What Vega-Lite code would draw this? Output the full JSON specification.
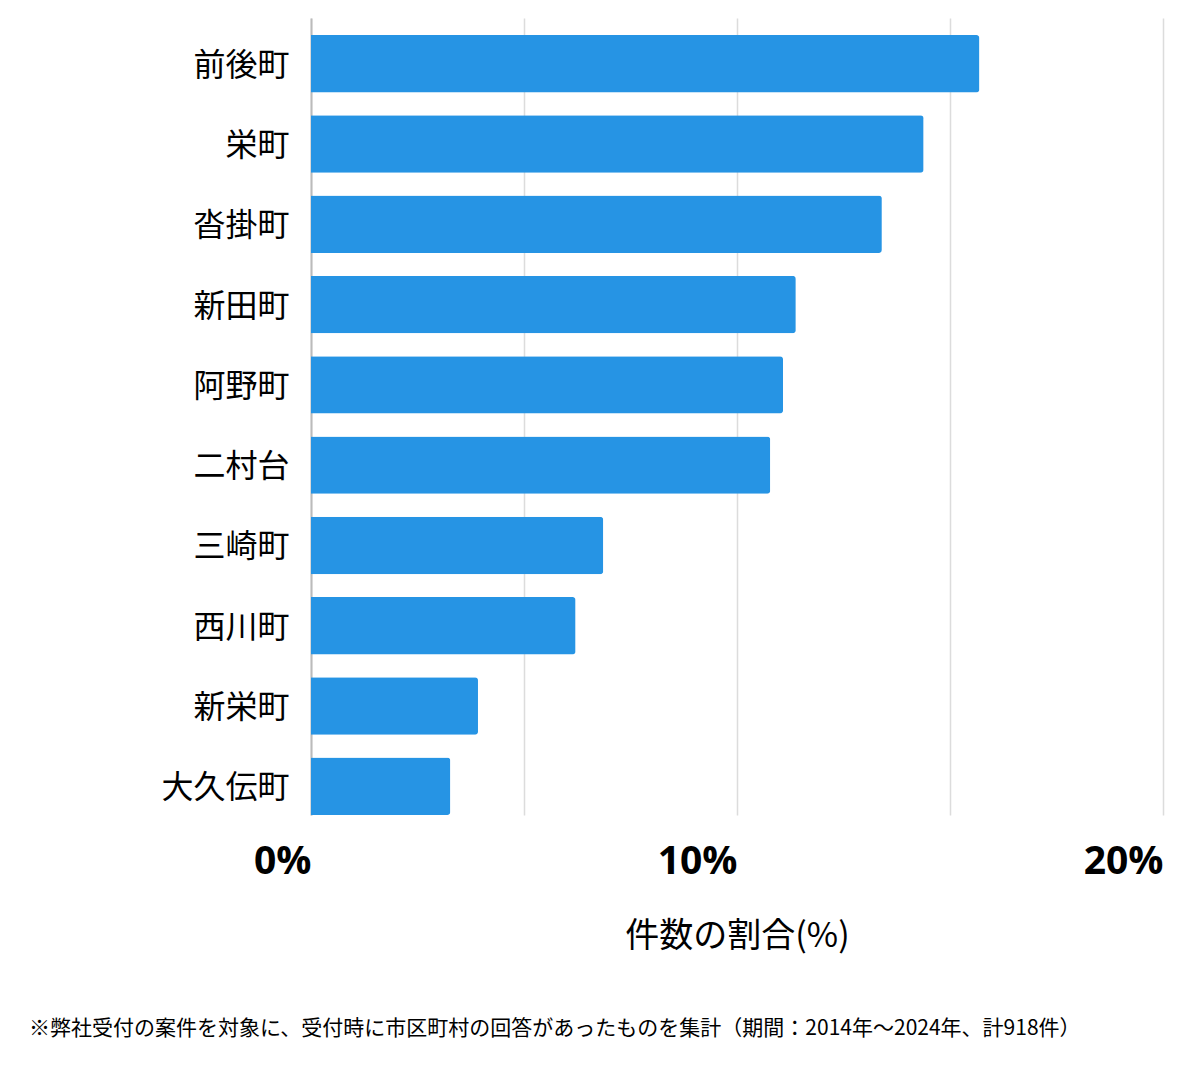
{
  "$schema": "https://vega.github.io/schema/vega-lite/v6.json",
  "width": 852,
  "height": 797,
  "autosize": "none",
  "padding": {"left": 311, "top": 18, "right": 37, "bottom": 254},
  "background": "white",
  "config": {
    "view": {"stroke": null},
    "font": "Noto Sans CJK JP"
  },
  "title": {
    "text": "※弊社受付の案件を対象に、受付時に市区町村の回答があったものを集計（期間：2014年～2024年、計918件）",
    "orient": "bottom",
    "anchor": "start",
    "frame": "group",
    "dx": -282,
    "offset": 82,
    "fontSize": 21,
    "fontWeight": "normal",
    "color": "#000000",
    "font": "Noto Sans CJK JP",
    "baseline": "alphabetic"
  },
  "data": {
    "values": [
      {"area": "前後町", "pct": 15.69},
      {"area": "栄町", "pct": 14.38},
      {"area": "沓掛町", "pct": 13.40},
      {"area": "新田町", "pct": 11.38},
      {"area": "阿野町", "pct": 11.08},
      {"area": "二村台", "pct": 10.78},
      {"area": "三崎町", "pct": 6.86},
      {"area": "西川町", "pct": 6.21},
      {"area": "新栄町", "pct": 3.92},
      {"area": "大久伝町", "pct": 3.27}
    ]
  },
  "mark": {"type": "bar", "color": "#2694E4", "cornerRadiusEnd": 3},
  "encoding": {
    "y": {
      "field": "area",
      "type": "nominal",
      "sort": null,
      "scale": {"paddingInner": 0.285, "paddingOuter": 0.106, "align": 1},
      "axis": {
        "title": null,
        "ticks": false,
        "domain": true,
        "domainColor": "#bbbbbb",
        "domainWidth": 2,
        "labelFontSize": 32,
        "labelFont": "Noto Sans CJK JP",
        "labelFontWeight": "normal",
        "labelColor": "#000000",
        "labelPadding": 22,
        "labelOffset": 2
      }
    },
    "x": {
      "field": "pct",
      "type": "quantitative",
      "scale": {"domain": [0, 20], "nice": false},
      "axis": {
        "values": [0, 5, 10, 15, 20],
        "title": "件数の割合(%)",
        "titleFont": "Noto Sans CJK JP",
        "titleFontSize": 34,
        "titleFontWeight": "normal",
        "titleColor": "#000000",
        "titlePadding": 38,
        "domain": false,
        "ticks": false,
        "tickSize": 0,
        "grid": true,
        "gridColor": "#dcdcdc",
        "gridWidth": 1.5,
        "labelExpr": "datum.value % 10 === 0 ? datum.value + '%' : ''",
        "labelFont": "Open Sans",
        "labelFontSize": 39,
        "labelFontWeight": "bold",
        "labelColor": "#000000",
        "labelAlign": "right",
        "labelBaseline": "alphabetic",
        "labelPadding": 58,
        "labelFlush": false,
        "labelOverlap": false
      }
    }
  }
}
